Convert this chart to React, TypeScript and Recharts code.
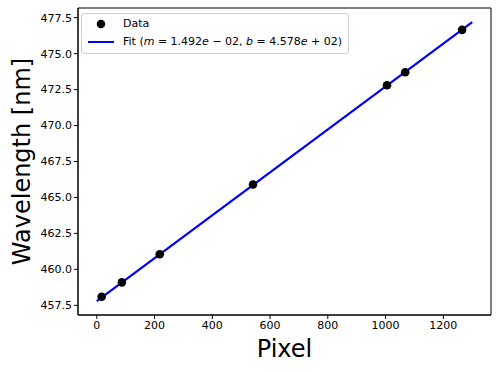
import React from "react";
import {
  ComposedChart,
  Line,
  Scatter,
  XAxis,
  YAxis,
  ReferenceArea,
} from "recharts";

const pixels = [17, 87, 218, 541, 1005, 1068, 1265];
const wavelengths = [458.1, 459.1, 461.05, 465.9, 472.8, 473.7, 476.65];
const fitSlope = 0.01492;
const fitIntercept = 457.8;
const fitRange = [0, 1300];
const xTicks = [0, 200, 400, 600, 800, 1000, 1200];
const yTicks = [457.5, 460.0, 462.5, 465.0, 467.5, 470.0, 472.5, 475.0, 477.5];
const xDomain = [-65, 1365];
const yDomain = [456.83, 478.17];

const dataPoints = pixels.map((p, i) => ({ x: p, y: wavelengths[i] }));
const fitPoints = fitRange.map((x) => ({ x, y: fitIntercept + fitSlope * x }));

const FONT = "'DejaVu Sans', sans-serif";

const LegendBox = () => (
  <div
    style={{
      position: "absolute",
      left: 81,
      top: 13,
      border: "1px solid #d0d0d0",
      borderRadius: 3,
      background: "rgba(255,255,255,0.8)",
      padding: "1px 6px 2px 5px",
      fontFamily: FONT,
      fontSize: 11,
      color: "#000",
      lineHeight: "18px",
      whiteSpace: "nowrap",
    }}
  >
    <div style={{ display: "flex", alignItems: "center" }}>
      <svg width={28} height={12} style={{ marginRight: 8 }}>
        <circle cx={14} cy={6} r={4.3} fill="#000" />
      </svg>
      <span>Data</span>
    </div>
    <div style={{ display: "flex", alignItems: "center" }}>
      <svg width={28} height={12} style={{ marginRight: 8 }}>
        <line x1={1} y1={6} x2={27} y2={6} stroke="#0000ff" strokeWidth={2} />
      </svg>
      <span>
        Fit (<i>m</i> = 1.492<i>e</i> − 02, <i>b</i> = 4.578<i>e</i> + 02)
      </span>
    </div>
  </div>
);

const XLabel = (props: any) => {
  const vb = props.viewBox || {};
  return (
    <text
      x={vb.x + vb.width / 2}
      y={357}
      textAnchor="middle"
      fontSize={24}
      fontFamily={FONT}
      fill="#000"
    >
      Pixel
    </text>
  );
};

const YLabel = () => {
  const cy = 8 + 307 / 2;
  return (
    <text
      x={22}
      y={cy}
      transform={`rotate(-90, 22, ${cy})`}
      textAnchor="middle"
      dominantBaseline="central"
      fontSize={24}
      fontFamily={FONT}
      fill="#000"
    >
      Wavelength [nm]
    </text>
  );
};

export default function App() {
  return (
    <div style={{ position: "absolute", left: 0, top: 0, width: 499, height: 372, background: "#fff" }}>
      <ComposedChart
        width={499}
        height={372}
        margin={{ top: 8, right: 8, bottom: 0, left: 0 }}
      >
        <XAxis
          xAxisId="b"
          dataKey="x"
          type="number"
          domain={xDomain}
          ticks={xTicks}
          allowDataOverflow
          height={57}
          stroke="#000"
          tickSize={4}
          tick={{ fill: "#000", fontSize: 11, fontFamily: FONT }}
          label={<XLabel />}
        />
        <YAxis
          yAxisId="l"
          dataKey="y"
          type="number"
          domain={yDomain}
          ticks={yTicks}
          allowDataOverflow
          width={78}
          stroke="#000"
          tickSize={4}
          tickFormatter={(v: number) => v.toFixed(1)}
          tick={{ fill: "#000", fontSize: 11, fontFamily: FONT }}
          label={<YLabel />}
        />
        <ReferenceArea
          xAxisId="b"
          yAxisId="l"
          x1={xDomain[0]}
          x2={xDomain[1]}
          y1={yDomain[0]}
          y2={yDomain[1]}
          fill="none"
          fillOpacity={0}
          stroke="#000"
          strokeWidth={1}
        />
        <Scatter
          xAxisId="b"
          yAxisId="l"
          data={dataPoints}
          fill="#000"
          shape={(p: any) => <circle cx={p.cx} cy={p.cy} r={4.3} fill="#000" />}
          isAnimationActive={false}
        />
        <Line
          xAxisId="b"
          yAxisId="l"
          data={fitPoints}
          dataKey="y"
          type="linear"
          stroke="#0000ff"
          strokeWidth={2.2}
          dot={false}
          activeDot={false}
          isAnimationActive={false}
        />
      </ComposedChart>
      <LegendBox />
    </div>
  );
}
